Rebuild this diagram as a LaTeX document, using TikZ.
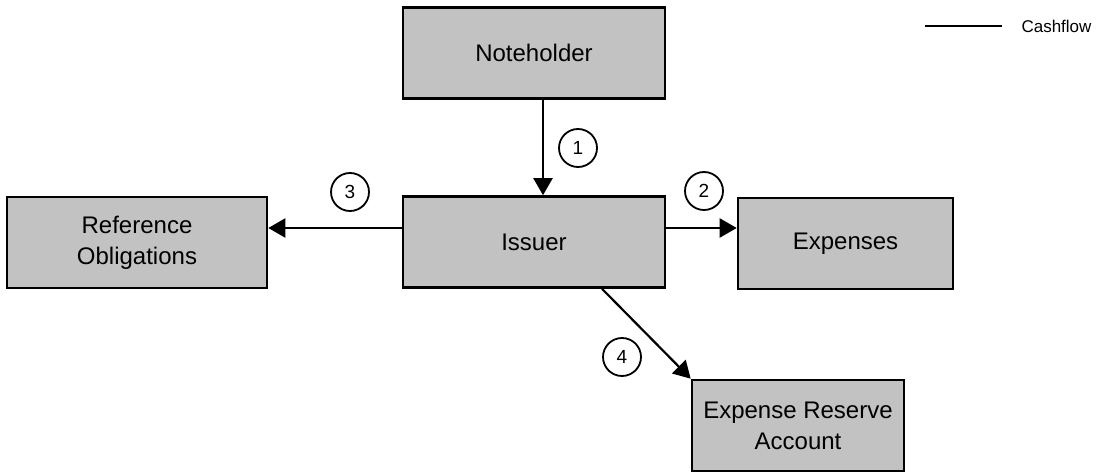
\documentclass[tikz,border=0pt]{standalone}
\usepackage{fontspec}
\setmainfont{Liberation Sans}
\usetikzlibrary{arrows.meta}

\begin{document}
\begin{tikzpicture}[x=1pt, y=-1pt,
        party/.style={draw, line width=2.6pt, fill=black!24,
            align=center, inner sep=0pt, minimum height=91pt,
            font=\fontsize{24}{31}\selectfont},
        flow/.style={line width=2.2pt, -{Triangle[length=17pt,width=19pt]}},
        stepno/.style={circle, draw, line width=1.8pt, minimum size=38pt,
            inner sep=0pt, font=\fontsize{19}{19}\selectfont}
    ]
    \useasboundingbox (0,0) rectangle (1098,473);

    % parties
    \node[party, minimum width=262pt] (noteholder) at (534,53) {Noteholder};
    \node[party, minimum width=262pt] (issuer) at (534,242) {Issuer};
    \node[party, minimum width=260pt] (refob) at (137,242.5) {Reference\\Obligations};
    \node[party, minimum width=215pt] (expenses) at (845.5,243.5) {Expenses};
    \node[party, minimum width=212pt] (reserve) at (798,425.5) {Expense Reserve\\Account};

    % cashflows
    \draw[flow] ([xshift=9pt]noteholder.south) -- ([xshift=9pt]issuer.north);
    \draw[flow] ([yshift=14pt]issuer.east) -- ([yshift=14pt]issuer.east -| expenses.west);
    \draw[flow] ([yshift=14pt]issuer.west) -- ([yshift=14pt]issuer.west -| refob.east);
    \draw[flow] ([xshift=68pt]issuer.south) -- (reserve.north west);

    % step numbers
    \node[stepno] (s1) at (578,148) {1};
    \node[stepno] (s2) at (704,191) {2};
    \node[stepno] (s3) at (350,192) {3};
    \node[stepno] (s4) at (622,357) {4};

    % key
    \node[anchor=west, font=\fontsize{17}{17}\selectfont] (keytext) at (1018,26) {Cashflow};
    \coordinate (keystart) at (925,26);
    \draw[line width=2.2pt] (keystart) -- ([xshift=-16pt]keytext.west);
\end{tikzpicture}
\end{document}
